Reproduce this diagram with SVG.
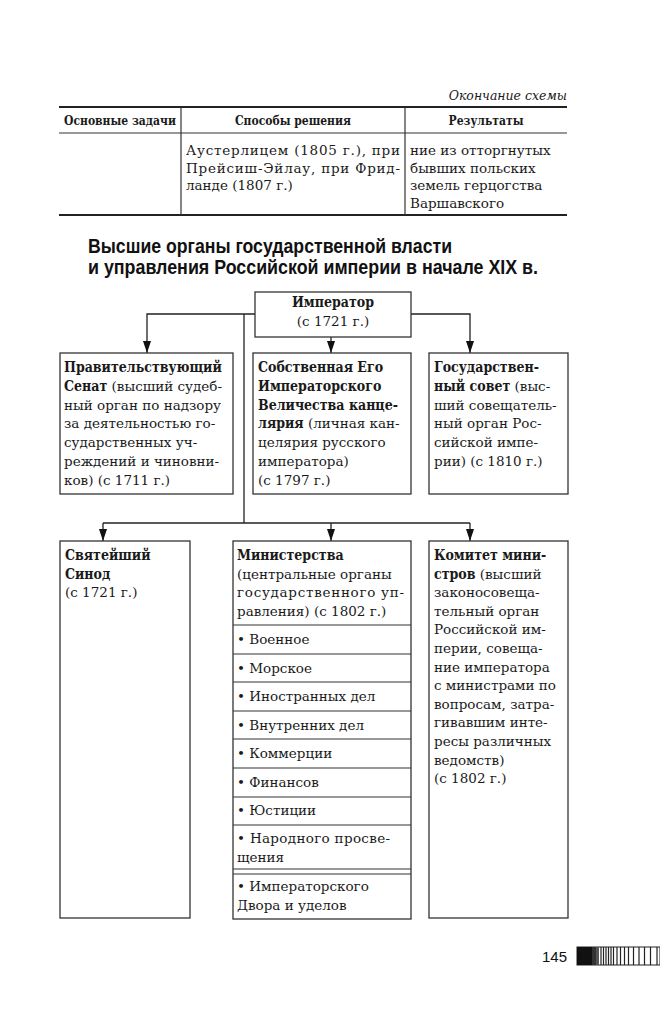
<svg xmlns="http://www.w3.org/2000/svg" width="660" height="1024" viewBox="0 0 660 1024">
<style>
.box{fill:#fff;stroke:#333;stroke-width:1.3}
.ln{fill:none;stroke:#222;stroke-width:1.3}
.t{font-family:"DejaVu Serif","Liberation Serif",serif;font-size:13.5px;fill:#1a1a1a}
.b{font-family:"DejaVu Serif Condensed","DejaVu Serif","Liberation Serif",serif;font-stretch:condensed;font-weight:bold;font-size:14px}
.h{font-family:"DejaVu Serif Condensed","DejaVu Serif","Liberation Serif",serif;font-stretch:condensed;font-size:12px;font-weight:bold;fill:#1a1a1a}
.title{font-family:"Liberation Sans",Arial,sans-serif;font-size:20px;font-weight:bold;fill:#111}
</style>
<defs>
<marker id="ah" viewBox="0 0 12 8" refX="12" refY="4" markerWidth="12" markerHeight="8" orient="auto" markerUnits="userSpaceOnUse">
<path d="M0,0 L12,4 L0,8 z" fill="#111"/>
</marker>
</defs>
<rect width="660" height="1024" fill="#fff"/>

<g id="table">
<text x="567" y="100" text-anchor="end" font-family="DejaVu Serif,Liberation Serif,serif" font-style="italic" font-size="12.5" fill="#1a1a1a">Окончание схемы</text>
<line x1="59" y1="107" x2="567" y2="107" stroke="#222" stroke-width="2"/>
<line x1="59" y1="133" x2="567" y2="133" stroke="#333" stroke-width="1.2"/>
<line x1="59" y1="215" x2="567" y2="215" stroke="#222" stroke-width="2"/>
<line x1="181" y1="107" x2="181" y2="215" stroke="#333" stroke-width="1.2"/>
<line x1="405" y1="107" x2="405" y2="215" stroke="#333" stroke-width="1.2"/>
<text class="h" x="120" y="125" text-anchor="middle">Основные задачи</text>
<text class="h" x="293" y="125" text-anchor="middle">Способы решения</text>
<text class="h" x="486" y="125" text-anchor="middle">Результаты</text>
<text class="t" x="186" y="155" textLength="214" lengthAdjust="spacing">Аустерлицем (1805 г.), при</text>
<text class="t" x="186" y="172.5" textLength="214" lengthAdjust="spacing">Прейсиш-Эйлау, при Фрид-</text>
<text class="t" x="186" y="190">ланде (1807 г.)</text>
<text class="t" x="410" y="155">ние из отторгнутых</text>
<text class="t" x="410" y="172.5">бывших польских</text>
<text class="t" x="410" y="190">земель герцогства</text>
<text class="t" x="410" y="207.5">Варшавского</text>
</g>

<g id="title">
<text class="title" x="88" y="253" textLength="364" lengthAdjust="spacingAndGlyphs">Высшие органы государственной власти</text>
<text class="title" x="88" y="274" textLength="450" lengthAdjust="spacingAndGlyphs">и управления Российской империи в начале XIX в.</text>
</g>

<g id="connectors">
<polyline class="ln" points="255,314 147,314 147,353" marker-end="url(#ah)"/>
<polyline class="ln" points="411,314 470,314 470,353" marker-end="url(#ah)"/>
<line class="ln" x1="331" y1="337" x2="331" y2="353" marker-end="url(#ah)"/>
<line class="ln" x1="244" y1="314" x2="244" y2="523"/>
<line class="ln" x1="103" y1="523" x2="470" y2="523"/>
<line class="ln" x1="103" y1="523" x2="103" y2="541" marker-end="url(#ah)"/>
<line class="ln" x1="331" y1="523" x2="331" y2="541" marker-end="url(#ah)"/>
<line class="ln" x1="470" y1="523" x2="470" y2="541" marker-end="url(#ah)"/>
</g>

<g id="emperor">
<rect class="box" x="255" y="292" width="156" height="45"/>
<text class="t b" x="333" y="307" text-anchor="middle">Император</text>
<text class="t" x="333" y="326" text-anchor="middle">(с 1721 г.)</text>
</g>

<g id="senate">
<rect class="box" x="60" y="353" width="173" height="141"/>
<text class="t b" x="64" y="372">Правительствующий</text>
<text class="t" x="64" y="390.8"><tspan class="b">Сенат</tspan> (высший судеб-</text>
<text class="t" x="64" y="409.6">ный орган по надзору</text>
<text class="t" x="64" y="428.4">за деятельностью го-</text>
<text class="t" x="64" y="447.2">сударственных уч-</text>
<text class="t" x="64" y="466">реждений и чиновни-</text>
<text class="t" x="64" y="484.8">ков) (с 1711 г.)</text>
</g>

<g id="chancellery">
<rect class="box" x="253" y="353" width="158" height="141"/>
<text class="t b" x="258" y="372">Собственная Его</text>
<text class="t b" x="258" y="390.8">Императорского</text>
<text class="t b" x="258" y="409.6">Величества канце-</text>
<text class="t" x="258" y="428.4"><tspan class="b">лярия</tspan> (личная кан-</text>
<text class="t" x="258" y="447.2">целярия русского</text>
<text class="t" x="258" y="466">императора)</text>
<text class="t" x="258" y="484.8">(с 1797 г.)</text>
</g>

<g id="council">
<rect class="box" x="429" y="353" width="139" height="141"/>
<text class="t b" x="434" y="372">Государствен-</text>
<text class="t" x="434" y="390.8"><tspan class="b">ный совет</tspan> (выс-</text>
<text class="t" x="434" y="409.6">ший совещатель-</text>
<text class="t" x="434" y="428.4">ный орган Рос-</text>
<text class="t" x="434" y="447.2">сийской импе-</text>
<text class="t" x="434" y="466">рии) (с 1810 г.)</text>
</g>

<g id="synod">
<rect class="box" x="60" y="541" width="130" height="377"/>
<text class="t b" x="65" y="560">Святейший</text>
<text class="t b" x="65" y="578.7">Синод</text>
<text class="t" x="65" y="597.4">(с 1721 г.)</text>
</g>

<g id="ministries">
<rect class="box" x="233" y="541" width="178" height="378"/>
<text class="t b" x="237" y="560">Министерства</text>
<text class="t" x="237" y="578.7">(центральные органы</text>
<text class="t" x="237" y="597.4" textLength="167" lengthAdjust="spacing">государственного уп-</text>
<text class="t" x="237" y="616.1">равления) (с 1802 г.)</text>
<g stroke="#333" stroke-width="1.2">
<line x1="233" y1="625" x2="411" y2="625"/>
<line x1="233" y1="654" x2="411" y2="654"/>
<line x1="233" y1="682" x2="411" y2="682"/>
<line x1="233" y1="711" x2="411" y2="711"/>
<line x1="233" y1="739" x2="411" y2="739"/>
<line x1="233" y1="768" x2="411" y2="768"/>
<line x1="233" y1="797" x2="411" y2="797"/>
<line x1="233" y1="825" x2="411" y2="825"/>
<line x1="233" y1="869" x2="411" y2="869"/>
<line x1="233" y1="874" x2="411" y2="874"/>
</g>
<text class="t" x="237" y="644">• Военное</text>
<text class="t" x="237" y="672.5">• Морское</text>
<text class="t" x="237" y="701">• Иностранных дел</text>
<text class="t" x="237" y="729.5">• Внутренних дел</text>
<text class="t" x="237" y="758">• Коммерции</text>
<text class="t" x="237" y="786.5">• Финансов</text>
<text class="t" x="237" y="815">• Юстиции</text>
<text class="t" x="237" y="843" textLength="153" lengthAdjust="spacing">• Народного просве-</text>
<text class="t" x="237" y="861.5">щения</text>
<text class="t" x="237" y="890.5">• Императорского</text>
<text class="t" x="237" y="909.5">Двора и уделов</text>
</g>

<g id="committee">
<rect class="box" x="429" y="541" width="139" height="377"/>
<text class="t b" x="434" y="560">Комитет мини-</text>
<text class="t" x="434" y="578.6"><tspan class="b">стров</tspan> (высший</text>
<text class="t" x="434" y="597.2">законосовеща-</text>
<text class="t" x="434" y="615.8">тельный орган</text>
<text class="t" x="434" y="634.4">Российской им-</text>
<text class="t" x="434" y="653">перии, совеща-</text>
<text class="t" x="434" y="671.6">ние императора</text>
<text class="t" x="434" y="690.2">с министрами по</text>
<text class="t" x="434" y="708.8">вопросам, затра-</text>
<text class="t" x="434" y="727.4">гивавшим инте-</text>
<text class="t" x="434" y="746">ресы различных</text>
<text class="t" x="434" y="764.6">ведомств)</text>
<text class="t" x="434" y="783.2">(с 1802 г.)</text>
</g>

<g id="pagenum">
<text x="567" y="962" text-anchor="end" font-family="Liberation Sans,Arial,sans-serif" font-size="15" fill="#111">145</text>
<rect x="577" y="947" width="83" height="18" fill="#fff" stroke="#222" stroke-width="1"/>
<rect x="577" y="947" width="15" height="18" fill="#111"/>
<rect x="592" y="947" width="4" height="18" fill="#333"/>
<rect x="596" y="947" width="3" height="18" fill="#555"/>
<g stroke="#222" stroke-width="1.2">
<line x1="601" y1="947" x2="601" y2="965"/>
<line x1="603.5" y1="947" x2="603.5" y2="965"/>
<line x1="606" y1="947" x2="606" y2="965"/>
<line x1="608.5" y1="947" x2="608.5" y2="965"/>
<line x1="611" y1="947" x2="611" y2="965"/>
<line x1="613.5" y1="947" x2="613.5" y2="965"/>
<line x1="617" y1="947" x2="617" y2="965"/>
<line x1="620.5" y1="947" x2="620.5" y2="965"/>
<line x1="624.5" y1="947" x2="624.5" y2="965"/>
<line x1="628.5" y1="947" x2="628.5" y2="965"/>
<line x1="633.5" y1="947" x2="633.5" y2="965"/>
<line x1="639" y1="947" x2="639" y2="965"/>
<line x1="644.5" y1="947" x2="644.5" y2="965"/>
<line x1="650.5" y1="947" x2="650.5" y2="965"/>
<line x1="657" y1="947" x2="657" y2="965"/>
</g>
</g>
</svg>
